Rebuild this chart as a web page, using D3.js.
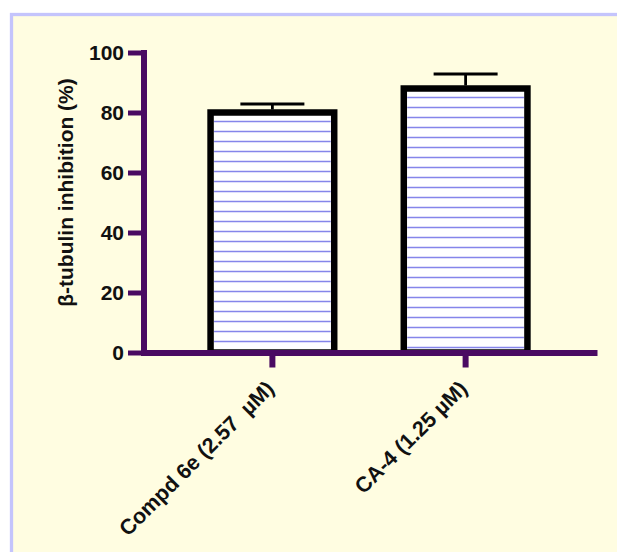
<!DOCTYPE html>
<html>
<head>
<meta charset="utf-8">
<script src="https://d3js.org/d3.v7.min.js"></script>
<style>
  html, body { margin: 0; padding: 0; background: #ffffff; }
  svg { display: block; }
</style>
</head>
<body>
<div id="chart"></div>
<script>
// data
var categories = ["Compd 6e (2.57  \u00b5M)", "CA-4 (1.25 \u00b5M)"];
var means = [80, 88];
var errors = [2.8, 4.8];
var yTicks = [0, 20, 40, 60, 80, 100];

var svgWidth = 617;
var svgHeight = 552;

var axisColor = "#4a0a62";

var svg = d3
    .select("#chart")
    .append("svg")
    .attr("width", svgWidth)
    .attr("height", svgHeight);

// panel background with lavender border
svg.append("rect")
    .attr("x", 11.5)
    .attr("y", 14.5)
    .attr("width", 640)
    .attr("height", 600)
    .attr("fill", "#fffde1")
    .attr("stroke", "#c4c4fc")
    .attr("stroke-width", 3.3);

// scales
var yScale = d3.scaleLinear()
    .domain([0, 100])
    .range([352.5, 52.5]);

var xScale = d3.scaleBand()
    .domain(categories)
    .range([141, 597])
    .paddingInner(0.36)
    .paddingOuter(0.36);

var rows = categories.map(function(c, i) {
    return { name: c, mean: means[i], err: errors[i] };
});

// bars
var bars = svg.append("g");

bars.selectAll("rect")
    .data(rows)
    .enter()
    .append("rect")
    .attr("x", function(d) { return xScale(d.name); })
    .attr("y", function(d) { return yScale(d.mean); })
    .attr("width", xScale.bandwidth())
    .attr("height", function(d) { return yScale(0) - yScale(d.mean); })
    .attr("fill", "#ffffff")
    .attr("stroke", "#000000")
    .attr("stroke-width", 6.5);

// horizontal hatch lines inside each bar
rows.forEach(function(d) {
    var top = yScale(d.mean) + 9;
    var x0 = xScale(d.name) + 3.5;
    var x1 = xScale(d.name) + xScale.bandwidth() - 3.5;
    var ys = d3.range(top, yScale(0) - 3, 10);
    bars.append("g")
        .selectAll("line")
        .data(ys)
        .enter()
        .append("line")
        .attr("x1", x0)
        .attr("x2", x1)
        .attr("y1", function(v) { return v; })
        .attr("y2", function(v) { return v; })
        .attr("stroke", "#8585ea")
        .attr("stroke-width", 1.6);
});

// error bars (upper only)
var errG = svg.append("g");

errG.selectAll(".stem")
    .data(rows)
    .enter()
    .append("line")
    .attr("class", "stem")
    .attr("x1", function(d) { return xScale(d.name) + xScale.bandwidth() / 2; })
    .attr("x2", function(d) { return xScale(d.name) + xScale.bandwidth() / 2; })
    .attr("y1", function(d) { return yScale(d.mean) - 3; })
    .attr("y2", function(d) { return yScale(d.mean + d.err); })
    .attr("stroke", "#000")
    .attr("stroke-width", 2.8);

errG.selectAll(".cap")
    .data(rows)
    .enter()
    .append("line")
    .attr("class", "cap")
    .attr("x1", function(d) { return xScale(d.name) + xScale.bandwidth() / 2 - 32; })
    .attr("x2", function(d) { return xScale(d.name) + xScale.bandwidth() / 2 + 32; })
    .attr("y1", function(d) { return yScale(d.mean + d.err); })
    .attr("y2", function(d) { return yScale(d.mean + d.err); })
    .attr("stroke", "#000")
    .attr("stroke-width", 3);

// axes
var yAxis = d3.axisLeft(yScale)
    .tickValues(yTicks)
    .tickSize(15.5)
    .tickSizeOuter(0)
    .tickPadding(4);

var xAxis = d3.axisBottom(xScale)
    .tickSize(15)
    .tickSizeOuter(0)
    .tickFormat("");

var xG = svg.append("g")
    .attr("transform", "translate(0," + yScale(0) + ")")
    .call(xAxis);

xG.select(".domain")
    .attr("stroke", axisColor)
    .attr("stroke-width", 6);
xG.selectAll(".tick line")
    .attr("stroke", axisColor)
    .attr("stroke-width", 6);

var yG = svg.append("g")
    .attr("transform", "translate(143.5,0)")
    .call(yAxis);

yG.select(".domain")
    .attr("stroke", axisColor)
    .attr("stroke-width", 6)
    .attr("stroke-linecap", "square");
yG.selectAll(".tick line")
    .attr("stroke", axisColor)
    .attr("stroke-width", 5);
yG.selectAll(".tick text")
    .attr("fill", "#111")
    .style("font-family", "'Liberation Sans', Arial, sans-serif")
    .style("font-weight", "bold")
    .style("font-size", "21px");

// rotated category labels
svg.append("g")
    .selectAll("text")
    .data(categories)
    .enter()
    .append("text")
    .attr("transform", function(d) {
        return "translate(" + (xScale(d) + xScale.bandwidth() / 2 + 3) + ",390) rotate(-45)";
    })
    .style("text-anchor", "end")
    .style("font-family", "'Liberation Sans', Arial, sans-serif")
    .style("font-weight", "bold")
    .style("font-size", "21.5px")
    .style("white-space", "pre")
    .attr("fill", "#111")
    .text(function(d) { return d; });

// y axis title
svg.append("text")
    .attr("transform", "translate(73,192.5) rotate(-90)")
    .style("text-anchor", "middle")
    .style("font-family", "'Liberation Sans', Arial, sans-serif")
    .style("font-weight", "bold")
    .style("font-size", "21px")
    .attr("fill", "#111")
    .text("\u03b2-tubulin inhibition (%)");
</script>
</body>
</html>
